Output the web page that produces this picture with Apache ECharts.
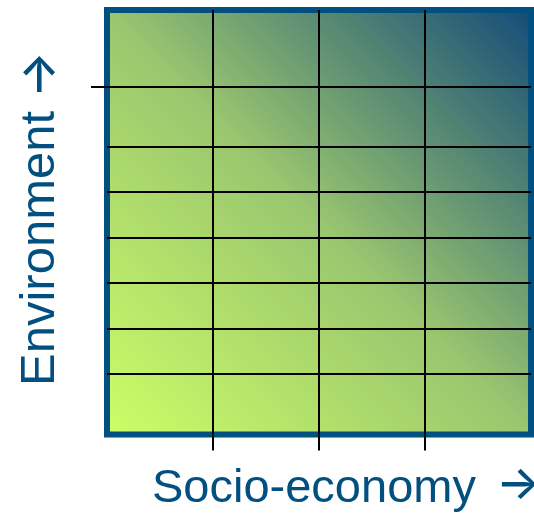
<!DOCTYPE html>
<html>
<head>
<meta charset="utf-8">
<script src="https://cdn.jsdelivr.net/npm/echarts@6/dist/echarts.min.js"></script>
<style>
html,body{margin:0;padding:0;background:#fff;}
#chart{width:534px;height:513px;}
</style>
</head>
<body>
<div id="chart"></div>
<script>
// Axis titles
var xTitle = 'Socio-economy';
var yTitle = 'Environment';
var arrow = '\u2192';
// Axis ranges (abstract scale units)
var xRange = [0, 4];
var yRange = [0, 100];
// Grid line positions
var xLines = [1, 2, 3];
var yLines = [14.3, 25.0, 35.7, 46.4, 57.1, 67.8, 81.9];
// Tick marks outside the frame
var xTicks = [1, 2, 3];
var yTicks = [81.9];
// Background gradient (bottom-left to top-right)
var gradientStops = [
  { offset: 0, color: '#ccff66' },
  { offset: 0.5, color: '#9ac66f' },
  { offset: 1, color: '#134a78' }
];

var frameColor = '#02507f';
var chart = echarts.init(document.getElementById('chart'), null, { renderer: 'canvas' });

var markData = xLines.map(function (v) { return { xAxis: v }; })
  .concat(yLines.map(function (v) { return { yAxis: v }; }));

chart.setOption({
  animation: false,
  grid: {
    show: true,
    left: 107, top: 10, width: 424, height: 424.5,
    backgroundColor: {
      type: 'linear', x: 0, y: 1, x2: 1, y2: 0,
      colorStops: gradientStops
    },
    borderColor: frameColor,
    borderWidth: 6
  },
  xAxis: {
    type: 'value', min: xRange[0], max: xRange[1],
    axisLine: { show: false },
    splitLine: { show: false },
    axisLabel: { show: false },
    axisTick: { show: true, customValues: xTicks, length: 16, inside: false,
      lineStyle: { color: '#000', width: 2 } }
  },
  yAxis: {
    type: 'value', min: yRange[0], max: yRange[1],
    axisLine: { show: false },
    splitLine: { show: false },
    axisLabel: { show: false },
    axisTick: { show: true, customValues: yTicks, length: 16, inside: false,
      lineStyle: { color: '#000', width: 2 } }
  },
  series: [{
    type: 'line',
    data: [],
    silent: true,
    markLine: {
      silent: true,
      symbol: ['none', 'none'],
      label: { show: false },
      lineStyle: { color: '#000', width: 2, type: 'solid' },
      emphasis: { disabled: true },
      data: markData
    }
  }],
  graphic: [
    {
      type: 'text', x: 152, y: 489,
      style: { text: xTitle, fill: frameColor, font: '47px "Liberation Sans", Arial, sans-serif',
        textAlign: 'left', textVerticalAlign: 'middle' }
    },
    {
      type: 'text', x: 496, y: 485,
      style: { text: arrow, fill: frameColor, font: '500 47px Inter, "DejaVu Sans", sans-serif',
        textAlign: 'left', textVerticalAlign: 'middle' }
    },
    {
      type: 'text', x: 40, y: 386, rotation: Math.PI / 2,
      style: { text: yTitle, fill: frameColor, font: '49px "Liberation Sans", Arial, sans-serif',
        textAlign: 'left', textVerticalAlign: 'middle' }
    },
    {
      type: 'text', x: 40, y: 98, rotation: Math.PI / 2,
      style: { text: arrow, fill: frameColor, font: '500 49px Inter, "DejaVu Sans", sans-serif',
        textAlign: 'left', textVerticalAlign: 'middle' }
    }
  ]
});
</script>
</body>
</html>
